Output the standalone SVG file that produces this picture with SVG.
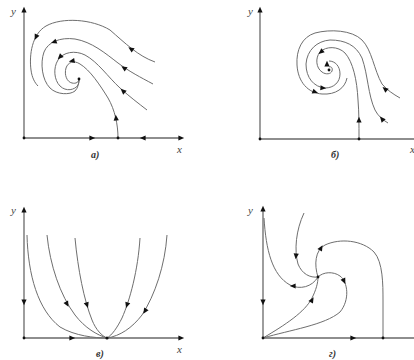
<svg xmlns="http://www.w3.org/2000/svg" xmlns:xlink="http://www.w3.org/1999/xlink" width="414" height="360" viewBox="0 0 414 360">
<style>
.ax{stroke:#6a6a6a;stroke-width:1.3;fill:none}
.cv{stroke:#6e6e6e;stroke-width:1;fill:none}
.ah{fill:#111}
.dot{fill:#111}
.lb{font-family:"Liberation Serif",serif;font-style:italic;font-size:11px;fill:#444}
.pl{font-family:"Liberation Serif",serif;font-style:italic;font-weight:bold;font-size:10px;fill:#333}
</style>
<defs>
<path id="ah" d="M3.2,0 L-2.6,-2.6 L-2.6,2.6 Z"/>
</defs>
<rect width="414" height="360" fill="#fff"/>

<g id="panel-a">
<g class="connectors">
<path class="ax" d="M24,138 V10 M24,138 H181"/>
<path class="cv" d="M155,62 C138,56 125,43 110,30 C92,19 62,17 46,26 C32,34 29,55 31,70 C32,78 35,83 38,86"/>
<path class="cv" d="M153,84 C140,77 130,72 118,63 C105,53 92,42 75,39 C60,37 48,42 44,52 C40,63 42,80 50,88 C57,95 70,95 75,91 C78,88 79,83 79,79"/>
<path class="cv" d="M147,110 C138,103 130,97 120,88 C108,77 98,62 85,55 C75,50 63,52 58,60 C53,68 54,80 60,86 C66,92 75,90 78,85 C79,83 79,81 79,79"/>
<path class="cv" d="M118,138 C118,125 115,110 108,98 C100,85 90,70 80,64 C74,60 68,62 66,68 C64,75 67,82 72,83 C76,84 79,82 79,79"/>
</g>
<use href="#ah" class="ah" transform="translate(24,10) rotate(-90)"/>
<use href="#ah" class="ah" transform="translate(181,138)"/>
<use href="#ah" class="ah" transform="translate(92,138)"/>
<use href="#ah" class="ah" transform="translate(143,138) rotate(180)"/>
<use href="#ah" class="ah" transform="translate(116,118) rotate(-95)"/>
<use href="#ah" class="ah" transform="translate(131,49) rotate(-145)"/>
<use href="#ah" class="ah" transform="translate(124,68) rotate(-145)"/>
<use href="#ah" class="ah" transform="translate(123,91) rotate(-138)"/>
<use href="#ah" class="ah" transform="translate(36,37) rotate(115)"/>
<use href="#ah" class="ah" transform="translate(54,42) rotate(160)"/>
<use href="#ah" class="ah" transform="translate(60,57) rotate(135)"/>
<use href="#ah" class="ah" transform="translate(72,61) rotate(170)"/>
<circle class="dot" cx="24" cy="138" r="1.4"/>
<circle class="dot" cx="118" cy="138" r="1.4"/>
<circle class="dot" cx="79" cy="79" r="1.4"/>
<text class="lb" x="11" y="15">y</text>
<text class="lb" x="177" y="153">x</text>
<text class="pl" x="91" y="158">а)</text>
</g>

<g id="panel-b">
<g class="connectors">
<path class="ax" d="M260,139 V10 M260,139 H414"/>
<path class="cv" d="M400,98 C393,94 387,90 382,84 C374,70 372,50 362,40 C352,30 330,29 315,33 C302,37 296,50 297,65 C298,82 308,93 322,94 C336,95 345,88 347,78"/>
<path class="cv" d="M388,123 C383,120 378,116 375,110 C368,95 368,75 362,58 C356,45 345,40 330,40 C317,41 307,50 306,64 C306,78 314,87 325,88 C334,88 340,82 340,74 C340,66 335,61 329,61"/>
<path class="cv" d="M359,139 C359,125 359,112 358,100 C357,80 353,62 345,53 C338,46 326,46 320,52 C315,58 316,68 322,72 C326,75 331,74 332,71 C333,68 331,66 329,67"/>
</g>
<use href="#ah" class="ah" transform="translate(260,10) rotate(-90)"/>
<use href="#ah" class="ah" transform="translate(359,120) rotate(-90)"/>
<use href="#ah" class="ah" transform="translate(385,89) rotate(-140)"/>
<use href="#ah" class="ah" transform="translate(382,119) rotate(-130)"/>
<use href="#ah" class="ah" transform="translate(315,92) rotate(20)"/>
<use href="#ah" class="ah" transform="translate(323,88) rotate(5)"/>
<use href="#ah" class="ah" transform="translate(321,52) rotate(140)"/>
<use href="#ah" class="ah" transform="translate(327,64) rotate(-90)"/>
<circle class="dot" cx="260" cy="139" r="1.4"/>
<circle class="dot" cx="359" cy="139" r="1.4"/>
<circle class="dot" cx="329" cy="70" r="1.4"/>
<text class="lb" x="248" y="15">y</text>
<text class="lb" x="410" y="153">x</text>
<text class="pl" x="331" y="158">б)</text>
</g>

<g id="panel-v">
<g class="connectors">
<path class="ax" d="M24,338 V210 M24,338 H181"/>
<path class="cv" d="M27,235 C28,275 38,310 60,327 C75,336 95,338 107,338"/>
<path class="cv" d="M47,235 C50,265 60,295 75,315 C85,328 97,335 107,338"/>
<path class="cv" d="M75,238 C78,270 84,300 92,320 C96,330 102,336 107,338"/>
<path class="cv" d="M140,238 C138,270 130,300 122,318 C117,328 112,335 107,338"/>
<path class="cv" d="M167,235 C165,265 155,295 142,315 C132,328 120,336 107,338"/>
</g>
<use href="#ah" class="ah" transform="translate(24,210) rotate(-90)"/>
<use href="#ah" class="ah" transform="translate(181,338)"/>
<use href="#ah" class="ah" transform="translate(24,302) rotate(90)"/>
<use href="#ah" class="ah" transform="translate(72,338)"/>
<use href="#ah" class="ah" transform="translate(67,304) rotate(62)"/>
<use href="#ah" class="ah" transform="translate(87,305) rotate(72)"/>
<use href="#ah" class="ah" transform="translate(127,305) rotate(108)"/>
<use href="#ah" class="ah" transform="translate(145,311) rotate(122)"/>
<circle class="dot" cx="24" cy="338" r="1.4"/>
<circle class="dot" cx="107" cy="338" r="1.6"/>
<text class="lb" x="11" y="214">y</text>
<text class="lb" x="177" y="353">x</text>
<text class="pl" x="96" y="357">в)</text>
</g>

<g id="panel-g">
<g class="connectors">
<path class="ax" d="M263,338 V209 M263,338 H414"/>
<path class="cv" d="M264,218 C266,250 272,275 290,285 C300,290 312,287 318,277"/>
<path class="cv" d="M304,213 C296,230 294,250 298,264 C302,274 310,278 318,277"/>
<path class="cv" d="M318,277 C314,265 315,250 325,245 C340,238 362,240 374,252 C383,262 383,285 383,300 L383,338"/>
<path class="cv" d="M263,338 C285,325 305,312 312,298 C316,290 318,283 318,277"/>
<path class="cv" d="M263,338 C290,330 325,325 340,312 C350,300 348,282 340,276 C333,271 323,272 318,277"/>
</g>
<use href="#ah" class="ah" transform="translate(263,209) rotate(-90)"/>
<use href="#ah" class="ah" transform="translate(263,302) rotate(90)"/>
<use href="#ah" class="ah" transform="translate(353,338)"/>
<use href="#ah" class="ah" transform="translate(293,286) rotate(180)"/>
<use href="#ah" class="ah" transform="translate(296,256) rotate(95)"/>
<use href="#ah" class="ah" transform="translate(321,248) rotate(-60)"/>
<use href="#ah" class="ah" transform="translate(312,300) rotate(-60)"/>
<use href="#ah" class="ah" transform="translate(344,281) rotate(65)"/>
<circle class="dot" cx="263" cy="338" r="1.4"/>
<circle class="dot" cx="383" cy="338" r="1.4"/>
<circle class="dot" cx="318" cy="277" r="1.4"/>
<text class="lb" x="248" y="214">y</text>
<text class="pl" x="329" y="357">г)</text>
</g>
</svg>
